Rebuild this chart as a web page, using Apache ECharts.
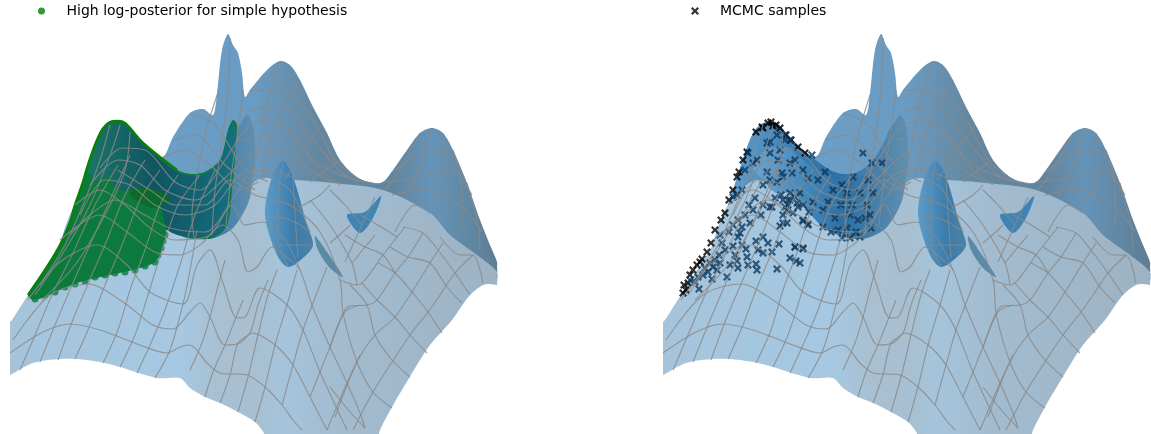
<!DOCTYPE html>
<html>
<head>
<meta charset="utf-8">
<style>
  html, body { margin: 0; padding: 0; background: #fff; }
  #main { width: 1151px; height: 434px; }
</style>
<script src="https://cdn.jsdelivr.net/npm/echarts@6/dist/echarts.min.js"></script>
</head>
<body>
<div id="main"></div>
<script>
// outlines, in the panel's own x / y units
const backOutline = [[28,295],[60,245],[75,205],[88,165],[102,130],[118,122],[135,135],[150,150],[163,157],[173,137],[190,113],[203,109],[213,115],[217,93],[222,50],[228,34],[233,45],[238,53],[242,73],[245,97],[250,90],[267,70],[280,61],[290,65],[300,80],[313,107],[327,133],[340,160],[357,177],[373,183],[383,182],[393,170],[407,150],[420,133],[432,128],[443,133],[453,150],[467,183],[480,220],[490,245],[497,262],[497,268],[497,272],[470,262],[380,230],[200,260],[60,290],[30,296]];
const humpOutline = [[60,245],[70,222],[75,205],[82,185],[88,165],[95,145],[102,130],[110,123],[118,122],[125,124],[135,135],[142,143],[150,150],[160,158],[177,170],[190,174],[205,172],[220,160],[235,135],[247,115],[254,130],[254,175],[240,215],[228,225],[213,238],[187,238],[167,230],[154,210],[127,190],[102,180],[74,207]];
const sheetOutline = [[10,376],[10,375],[12,374],[33,363],[60,359],[87,360],[113,365],[157,378],[180,378],[190,388],[205,397],[220,403],[238,412],[255,422],[262,430],[272,445],[375,445],[380,430],[392,407],[417,365],[430,345],[452,320],[470,295],[483,285],[490,284],[497,285],[497,284],[497,272],[477,255],[450,235],[430,213],[383,190],[333,183],[293,180],[257,180],[240,205],[215,215],[185,212],[165,198],[147,190],[127,190],[102,180],[74,207],[60,245],[45,270],[28,295],[12,320],[10,322],[10,323]];
const bulgeOutline = [[100,168],[113,150],[133,147],[150,160],[173,175],[190,180],[210,175],[228,150],[240,125],[252,150],[250,197],[234,227],[214,238],[194,238],[170,227],[154,210],[140,193],[123,193],[107,177]];
const midPeakOutline = [[283,161],[272,177],[265,215],[277,255],[288,267],[303,258],[313,245],[307,225],[293,177]];
const sliverOutline = [[315,236],[327,252],[343,277],[330,268],[318,250]];
const dipOutline = [[347,215],[360,233],[373,218],[381,196],[365,212]];
const greenOutline = [[28,295],[45,270],[60,245],[70,222],[75,205],[82,185],[88,165],[95,145],[102,130],[110,122],[118,121],[125,123],[135,134],[142,142],[150,149],[160,157],[177,170],[190,174],[205,172],[220,160],[228,130],[233,120],[237,125],[232,190],[227,225],[213,238],[187,238],[167,230],[165,240],[162,250],[155,262],[140,268],[110,275],[80,282],[60,290],[35,300]];
const greenHumpTop = [[88,170],[95,147],[102,132],[110,124],[118,123],[125,125],[135,136],[150,151],[177,172],[190,176],[205,174],[220,162],[229,132],[234,122],[236,130],[230,190],[225,225],[213,237],[187,237],[168,230],[160,205],[145,190],[120,190],[107,177],[97,180]];
const greenFold = [[130,193],[145,187],[170,198],[155,208],[140,203]];
const greenRim = [[28,295],[45,270],[60,245],[70,222],[75,205],[82,185],[88,165],[95,145],[102,130],[110,122],[118,121],[125,123],[135,134],[142,142],[150,149],[160,157],[177,170]];
const greenSamples = [[35,299],[45,295],[55,292],[65,287],[75,284],[85,281],[95,277],[105,275],[115,273],[125,272],[135,270],[145,266],[155,262],[158,255],[161,248],[163,241],[165,235],[163,229]];
const mcmcRim = [[109,127],[115,123],[123,125],[133,135],[145,147],[94,152],[90,160],[86,172],[84,177],[72,213],[54,252],[49,259],[37,275],[31,285],[30,293],[68,220],[58,243],[40,270],[44,265],[118,122],[127,128],[152,153],[110,128],[80,190],[76,200],[62,230],[33,290],[120,126],[138,140],[103,132],[47,262],[35,283]];
const mcmcInner = [[119,207],[108,215],[135,205],[130,215],[92,215],[85,220],[89,227],[97,223],[87,233],[85,237],[127,226],[134,223],[150,221],[155,224],[110,237],[103,241],[115,243],[126,244],[80,246],[89,245],[93,249],[105,250],[110,253],[119,252],[142,247],[150,249],[94,257],[137,258],[143,261],[147,263],[84,261],[77,265],[85,268],[95,265],[103,264],[104,270],[124,269],[74,277],[59,279],[46,289],[64,270],[52,268],[60,267],[67,263],[69,243],[67,235],[57,263],[42,282],[37,280],[82,255],[132,135],[137,140],[159,155],[129,173],[137,193],[147,193],[137,200],[132,207],[144,203],[160,202],[150,220],[155,225],[130,223],[170,227],[175,202],[182,218],[185,230],[197,215],[205,220],[212,218],[217,215],[197,238],[207,237],[189,238],[194,228],[142,247],[150,248],[229,163],[219,163],[215,180],[207,193],[220,193],[194,193],[200,177],[210,153],[180,190],[189,185],[114,143],[117,142],[124,135],[132,140],[117,153],[95,153],[100,163],[92,170],[84,195],[80,197],[89,190],[102,198],[110,205],[117,207],[122,198],[130,200],[135,200],[142,197],[145,207],[134,210],[117,180],[124,182],[130,177],[139,173],[114,172],[104,160],
  [127,150],[142,160],[150,170],[137,163],[125,160],[110,185],[100,210],[96,205],[140,213],[128,195],[150,205],[156,212],[72,250],[76,232],[80,225],[66,255],[50,275],[55,272],[45,277],[62,260],[165,180],[172,172],[155,178],[199,205],[188,205],[170,210],[178,232],[214,205],[203,232],[218,228]];
// mesh lines of the surface
const nearRows = [
  [[10,353],[43,332],[70,324],[100,330],[140,345],[167,353],[180,347],[190,345],[207,363],[220,373],[247,375],[265,387],[282,405],[293,420],[302,430]],
  [[13,340],[50,295],[88,284],[123,302],[153,325],[173,329],[190,312],[200,303],[210,317],[225,345],[240,343],[252,333],[275,345],[293,365],[310,397],[327,430]],
  [[28,300],[60,262],[97,245],[127,265],[150,292],[183,304],[197,265],[210,250],[223,283],[237,318],[245,317],[260,288],[287,305],[303,330],[320,372],[347,430]],
  [[60,240],[100,215],[127,232],[157,253],[180,255],[200,245],[222,225],[238,240],[248,272],[257,267],[272,247],[290,260],[300,270],[312,305],[330,347],[347,383],[360,413],[365,428]],
  [[75,205],[100,190],[125,205],[150,228],[175,240],[210,235],[232,205],[245,225],[262,222],[285,240],[300,270]],
  [[118,170],[150,190],[175,205],[205,205],[230,180],[255,195],[290,205],[320,232],[340,280],[343,313],[357,362],[373,392],[392,408]],
  [[330,387],[350,412],[365,428]]
];
const nearColumns = [
  [[20,370],[35,335],[52,295],[72,255],[95,205],[118,165]],
  [[40,362],[55,325],[72,285],[92,240],[110,200],[130,155]],
  [[58,360],[72,322],[88,284],[107,240],[125,195],[145,160]],
  [[75,359],[90,325],[105,285],[122,245],[140,200],[160,170]],
  [[103,363],[118,330],[130,290],[145,250],[160,205],[178,175]],
  [[120,367],[135,335],[148,295],[162,250],[178,205],[200,175]],
  [[137,373],[150,345],[165,310],[180,265],[195,215],[215,170]],
  [[155,378],[170,350],[183,304],[190,270],[197,230]],
  [[190,370],[202,343],[210,317],[217,290],[225,260]],
  [[205,397],[213,372],[225,345],[235,320],[243,300]],
  [[220,403],[230,375],[238,343],[250,333],[258,305],[268,280]],
  [[238,412],[248,377],[258,335],[268,295],[277,270]],
  [[255,422],[265,387],[275,345],[287,305],[297,270]],
  [[282,405],[293,365],[303,330],[313,303],[327,267]],
  [[310,397],[320,372],[330,347],[345,312],[360,305]],
  [[327,430],[347,383],[360,355]]
];
const upFamily = [
  [[353,430],[373,392],[392,362],[410,335],[428,312],[438,298],[455,273],[473,255]],
  [[335,417],[357,362],[375,335],[395,317],[412,292],[430,263],[443,243]],
  [[330,347],[343,313],[350,306],[367,305],[377,300],[395,273],[408,257],[423,233]],
  [[340,280],[357,285],[365,280],[383,255],[397,237],[405,227]],
  [[352,263],[365,247],[375,235]],
  [[330,243],[345,230],[350,225]],
  [[300,207],[320,195],[330,185]],
  [[345,262],[362,225],[375,197]],
  [[395,232],[415,205],[430,213]]
];
const downFamily = [
  [[350,285],[367,305],[375,335],[392,360],[410,377]],
  [[362,283],[377,300],[395,317],[410,335],[427,353]],
  [[378,263],[395,273],[412,292],[428,312],[442,333]],
  [[390,247],[408,257],[430,263],[447,287],[462,303]],
  [[403,227],[423,233],[438,250],[455,273],[470,295]],
  [[440,237],[460,255],[473,255],[483,283]],
  [[345,235],[365,247],[383,255],[395,273]],
  [[360,215],[378,225],[397,237]],
  [[310,200],[330,225],[352,263],[357,285]],
  [[330,190],[345,205],[362,225]]
];
const backWires = [
  [[100,168],[122,148],[145,150],[175,182],[200,190],[225,160],[245,130],[265,120],[290,130],[315,165],[340,185]],
  [[90,185],[118,160],[140,165],[165,190],[195,200],[225,178],[250,155],[280,150],[310,170],[335,183]],
  [[80,215],[105,180],[130,185],[155,205],[185,215],[215,205],[240,175],[265,170],[295,178]],
  [[70,235],[90,215],[115,200],[145,215],[170,228],[205,232],[232,200],[247,175]],
  [[173,140],[195,135],[225,165],[255,190]],
  [[190,113],[215,125],[242,165],[268,182]],
  [[163,157],[185,150],[210,165],[240,190],[258,182]],
  [[217,95],[205,135],[198,170],[192,215],[194,238]],
  [[230,38],[228,90],[222,140],[215,190],[212,235]],
  [[243,90],[238,130],[232,170],[226,225]],
  [[280,62],[268,100],[258,150],[250,190]],
  [[300,80],[280,115],[265,160],[262,180]],
  [[250,90],[280,90],[310,115],[335,160],[357,178]],
  [[247,112],[280,105],[310,135],[345,175],[378,184]],
  [[240,140],[285,135],[320,165],[360,182]],
  [[322,125],[300,155],[285,180]],
  [[340,160],[318,175],[310,182]],
  [[393,172],[418,155],[445,150],[465,180]],
  [[383,182],[415,178],[450,170],[472,195]],
  [[392,195],[425,190],[460,205],[482,232]],
  [[432,128],[420,165],[405,195]],
  [[443,133],[445,170],[430,205]],
  [[453,150],[462,190],[462,228]],
  [[420,133],[400,170],[385,190]],
  [[467,183],[478,225],[480,250]],
  [[283,163],[278,195],[278,240],[288,266]],
  [[293,177],[295,215],[298,258]],
  [[270,178],[290,190],[310,232]],
  [[266,215],[290,220],[308,230]],
  [[272,245],[292,245],[310,245]],
  [[110,125],[100,160],[85,200],[65,245],[40,285]],
  [[120,125],[112,150],[90,205],[65,250],[35,295]],
  [[130,132],[125,170],[105,215],[75,265],[42,300]]
];

const sheetFill = { type: 'linear', x: 0, y: 0, x2: 1, y2: 0, colorStops: [
  { offset: 0, color: '#a5c4dc' }, { offset: 0.35, color: '#a6c8e2' }, { offset: 0.42, color: '#a8c0d2' },
  { offset: 0.5, color: '#a7bfd1' }, { offset: 0.56, color: '#a5c4db' }, { offset: 0.68, color: '#a2bbcf' }, { offset: 1, color: '#9cb3c4' }
] };
const backFill = { type: 'linear', x: 0, y: 0, x2: 1, y2: 0, colorStops: [
  { offset: 0, color: '#6fa3cd' }, { offset: 0.48, color: '#6a9bc2' }, { offset: 0.62, color: '#64879f' },
  { offset: 0.78, color: '#62859f' }, { offset: 0.86, color: '#6594b8' }, { offset: 1, color: '#5d7d93' }
] };
const humpFill = { type: 'linear', x: 0, y: 0, x2: 1, y2: 0, colorStops: [
  { offset: 0, color: '#6aa5d3' }, { offset: 0.35, color: '#4387ba' }, { offset: 0.6, color: '#2c6fa3' }, { offset: 1, color: '#5f8fb0' }
] };
const peakFill = { type: 'linear', x: 0, y: 0, x2: 1, y2: 0, colorStops: [
  { offset: 0, color: '#5b9ccb' }, { offset: 0.6, color: '#3a7cac' }, { offset: 1, color: '#4a82a6' }
] };
const greenTopFill = { type: 'linear', x: 0, y: 0, x2: 1, y2: 0, colorStops: [
  { offset: 0, color: '#1a7568' }, { offset: 0.45, color: '#0f5562' }, { offset: 1, color: '#156f80' }
] };

function patch(pts, fill, g, smooth) {
  return {
    type: 'custom', coordinateSystem: 'cartesian2d', xAxisIndex: g, yAxisIndex: g,
    silent: true, data: pts, encode: { x: 0, y: 1 }, clip: false,
    renderItem(params, api) {
      if (params.dataIndex !== 0) return;
      return {
        type: 'polygon',
        shape: { points: pts.map(p => api.coord(p)), smooth: smooth === undefined ? 0.3 : smooth },
        style: { fill: fill }
      };
    }
  };
}
function wires(list, g, color, width) {
  return list.map(pts => ({
    type: 'line', xAxisIndex: g, yAxisIndex: g, data: pts, smooth: 0.3, silent: true,
    showSymbol: false, lineStyle: { color: color || 'rgba(138,138,138,0.85)', width: width || 1.1 }
  }));
}
function surface(g) {
  return [
    patch(backOutline, backFill, g),
    patch(humpOutline, humpFill, g),
    patch(sheetOutline, sheetFill, g),
    patch(bulgeOutline, humpFill, g),
    patch(midPeakOutline, peakFill, g),
    patch(sliverOutline, '#5b8aa6', g),
    patch(dipOutline, '#3f84b5', g)
  ];
}
const meshLines = [].concat(nearRows, nearColumns, upFamily, downFamily, backWires);
const xMark = 'path://M2,0 L5,3 L8,0 L10,2 L7,5 L10,8 L8,10 L5,7 L2,10 L0,8 L3,5 L0,2 Z';

const series = [].concat(
  surface(0),
  [
    patch(greenOutline, '#0b7a3c', 0),
    patch(greenHumpTop, greenTopFill, 0),
    patch(greenFold, '#0b6a2c', 0)
  ],
  wires([greenRim], 0, '#0a800a', 2.5),
  [{
    name: 'High log-posterior for simple hypothesis', type: 'scatter', xAxisIndex: 0, yAxisIndex: 0,
    data: greenSamples, symbol: 'circle', symbolSize: 7, itemStyle: { color: '#0b7a3c' }, silent: true
  }],
  wires(meshLines, 0),
  surface(1),
  [{
    name: 'MCMC samples', type: 'scatter', xAxisIndex: 1, yAxisIndex: 1,
    data: mcmcRim, symbol: xMark, symbolSize: 8, itemStyle: { color: '#000' }, silent: true
  }, {
    name: 'samples under surface', type: 'scatter', xAxisIndex: 1, yAxisIndex: 1,
    data: mcmcInner, symbol: xMark, symbolSize: 8, itemStyle: { color: '#0f3a5c' }, silent: true
  }],
  wires(meshLines, 1)
);

const chart = echarts.init(document.getElementById('main'), null, { renderer: 'canvas' });
chart.setOption({
  animation: false,
  backgroundColor: '#fff',
  legend: [
    { data: [{ name: 'High log-posterior for simple hypothesis', icon: 'circle', itemStyle: { color: '#008000' } }], left: 38, top: 4, padding: 0, itemWidth: 40, itemHeight: 7, selectedMode: false,
      textStyle: { fontFamily: 'DejaVu Sans', fontSize: 14, color: '#000' } },
    { data: [{ name: 'MCMC samples', icon: xMark, itemStyle: { color: '#000' } }], left: 691, top: 4, padding: 0, itemWidth: 40, itemHeight: 8, selectedMode: false,
      textStyle: { fontFamily: 'DejaVu Sans', fontSize: 14, color: '#000' } }
  ],
  grid: [
    { left: 0, top: 0, width: 498, height: 434 },
    { left: 653, top: 0, width: 498, height: 434 }
  ],
  xAxis: [
    { type: 'value', gridIndex: 0, min: 0, max: 498, show: false },
    { type: 'value', gridIndex: 1, min: 0, max: 498, show: false }
  ],
  yAxis: [
    { type: 'value', gridIndex: 0, min: 0, max: 434, inverse: true, show: false },
    { type: 'value', gridIndex: 1, min: 0, max: 434, inverse: true, show: false }
  ],
  series: series
});
</script>
</body>
</html>
